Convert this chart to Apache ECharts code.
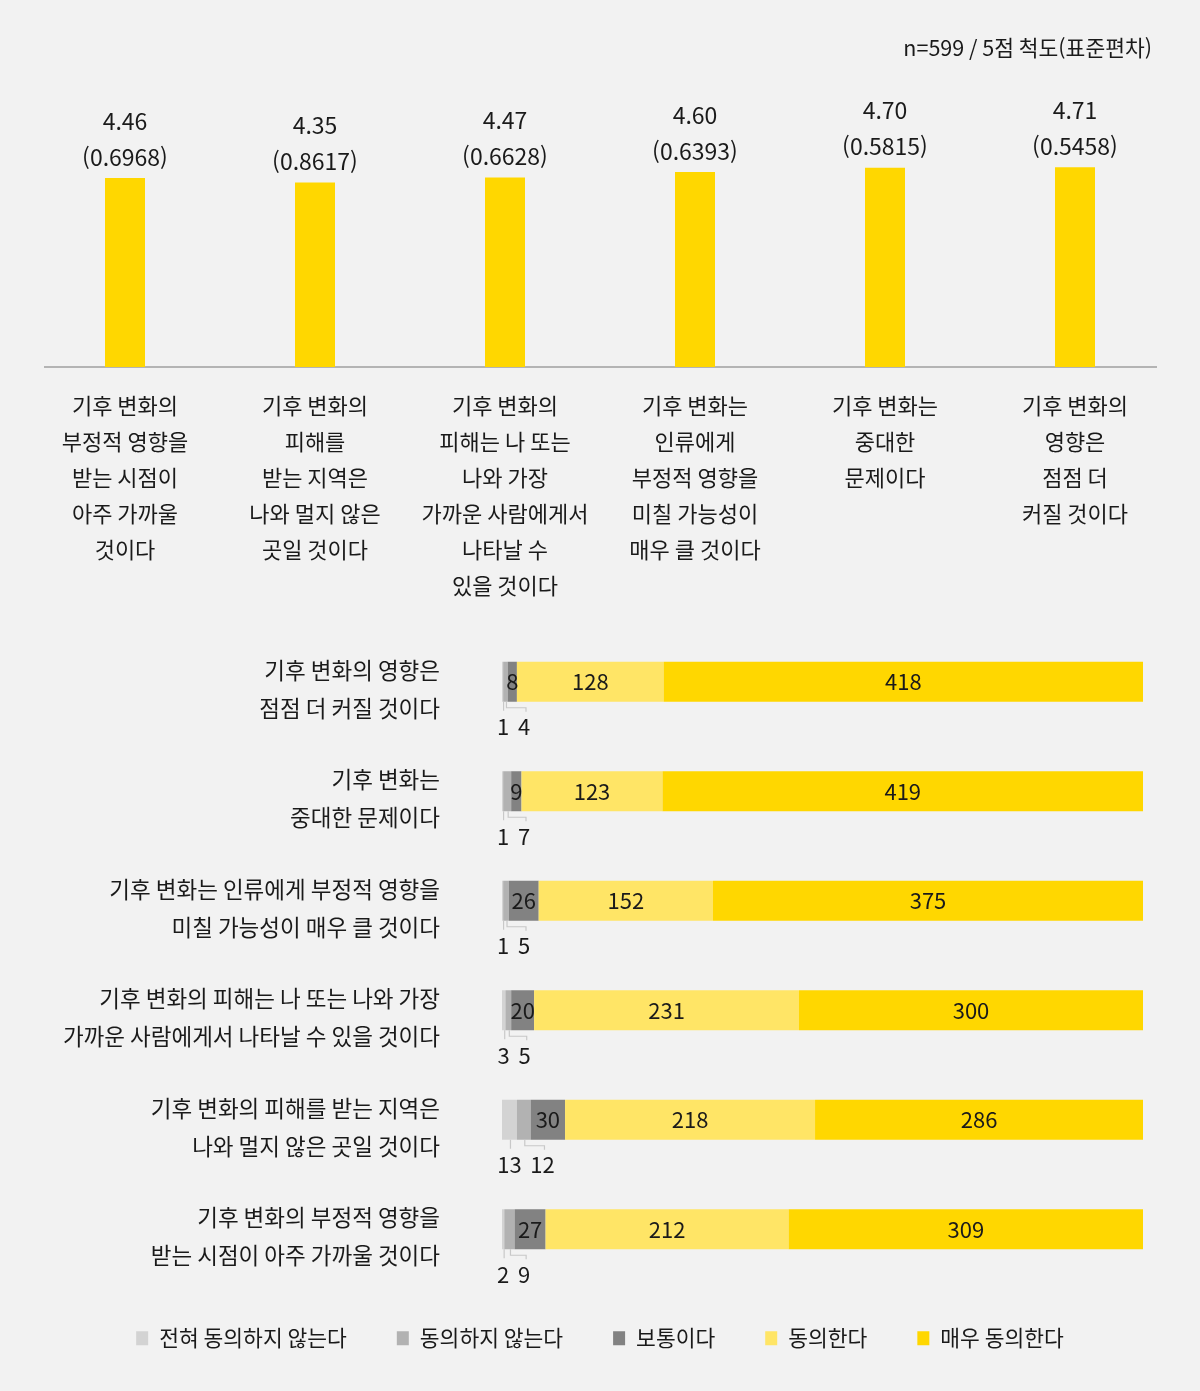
<!DOCTYPE html>
<html lang="ko">
<head>
<meta charset="UTF-8">
<title>기후 변화 인식</title>
<script src="https://cdn.jsdelivr.net/npm/echarts@6/dist/echarts.min.js"></script>
<style>
  html, body { margin: 0; padding: 0; background: #f2f2f2; }
  #chart { width: 1200px; height: 1391px; }
</style>
</head>
<body>
<div id="chart"></div>
<script>
    // 상단: 평균 점수
    let meanCategories = [
        '기후 변화의\n부정적 영향을\n받는 시점이\n아주 가까울\n것이다',
        '기후 변화의\n피해를\n받는 지역은\n나와 멀지 않은\n곳일 것이다',
        '기후 변화의\n피해는 나 또는\n나와 가장\n가까운 사람에게서\n나타날 수\n있을 것이다',
        '기후 변화는\n인류에게\n부정적 영향을\n미칠 가능성이\n매우 클 것이다',
        '기후 변화는\n중대한\n문제이다',
        '기후 변화의\n영향은\n점점 더\n커질 것이다'
    ];
    let means = [4.46, 4.35, 4.47, 4.60, 4.70, 4.71];
    let stdDevs = ['0.6968', '0.8617', '0.6628', '0.6393', '0.5815', '0.5458'];

    // 하단: 응답 분포 (위에서 아래 순서)
    let rowCategories = [
        '기후 변화의 영향은\n점점 더 커질 것이다',
        '기후 변화는\n중대한 문제이다',
        '기후 변화는 인류에게 부정적 영향을\n미칠 가능성이 매우 클 것이다',
        '기후 변화의 피해는 나 또는 나와 가장\n가까운 사람에게서 나타날 수 있을 것이다',
        '기후 변화의 피해를 받는 지역은\n나와 멀지 않은 곳일 것이다',
        '기후 변화의 부정적 영향을\n받는 시점이 아주 가까울 것이다'
    ];
    let seriesNames = ['전혀 동의하지 않는다', '동의하지 않는다', '보통이다', '동의한다', '매우 동의한다'];
    let stronglyDisagree = [1, 1, 1, 3, 13, 2];
    let disagree = [4, 7, 5, 5, 12, 9];
    let neutral = [8, 9, 26, 20, 30, 27];
    let agree = [128, 123, 152, 231, 218, 212];
    let stronglyAgree = [418, 419, 375, 300, 286, 309];

    let colors = ['#d3d3d3', '#b2b2b2', '#828282', '#ffe566', '#ffd700'];
    let font = '"Noto Sans CJK KR", "Noto Sans", sans-serif';
    let textColor = '#1a1a1a';
    let total = stronglyDisagree[0] + disagree[0] + neutral[0] + agree[0] + stronglyAgree[0];

    let chart = echarts.init(document.getElementById('chart'));

    let inLabel = {show: true, position: 'inside', color: textColor, fontSize: 22, fontFamily: font};

    // 작은 값(전혀/동의하지 않는다)은 막대 아래에 지시선과 함께 표시
    function renderSmall(params, api) {
        let row = api.value(2);
        let v1 = api.value(0), v2 = api.value(1);
        let p0 = api.coord([0, row]);
        let p1 = api.coord([v1, row]);
        let p2 = api.coord([v1 + v2, row]);
        let bottom = p0[1] + 20;
        let c1 = (p0[0] + p1[0]) / 2;
        let c2 = (p1[0] + p2[0]) / 2;
        let t1 = String(v1), t2 = String(v2);
        let cw = 12;
        let w1 = t1.length * cw, w2 = t2.length * cw;
        let left1 = Math.max(p0[0] - 5, c1 - w1 / 2);
        let lc1 = left1 + w1 / 2;
        let lc2 = left1 + w1 + 9 + w2 / 2;
        let lineStyle = {stroke: '#c8c8c8', lineWidth: 1.2, fill: null};
        let txt = (t, x) => ({type: 'text', style: {text: t, x: x, y: bottom + 25, align: 'center', verticalAlign: 'middle', fill: textColor, font: '22px ' + font}});
        return {
            type: 'group',
            children: [
                {type: 'polyline', shape: {points: [[c1 + 1, bottom], [c1 + 1, bottom + 9]]}, style: lineStyle},
                {type: 'polyline', shape: {points: [[c2 + 1, bottom], [c2 + 1, bottom + 6], [lc2 + 2, bottom + 6], [lc2 + 2, bottom + 10]]}, style: lineStyle},
                txt(t1, lc1),
                txt(t2, lc2)
            ]
        };
    }

    let option = {
        backgroundColor: '#f2f2f2',
        animation: false,
        title: {
            text: 'n=599 / 5점 척도(표준편차)',
            right: 43,
            top: 32,
            textStyle: {fontSize: 21.5, fontWeight: 'normal', color: textColor, fontFamily: font}
        },
        legend: {
            bottom: 37,
            left: 'center',
            itemWidth: 12,
            itemHeight: 14,
            itemGap: 50,
            icon: 'rect',
            data: seriesNames,
            textStyle: {fontSize: 21.5, color: textColor, fontFamily: font, padding: [0, 0, 0, 6]}
        },
        graphic: [{
            type: 'line',
            shape: {x1: 44, y1: 367, x2: 1157, y2: 367},
            style: {stroke: '#b4b4b4', lineWidth: 2}
        }],
        grid: [
            {left: 30, right: 30, top: 155, height: 212},
            {left: 502, right: 57, top: 627, height: 657}
        ],
        xAxis: [
            {
                gridIndex: 0, type: 'category', data: meanCategories,
                axisLine: {show: false}, axisTick: {show: false},
                axisLabel: {interval: 0, margin: 21, color: textColor, fontSize: 22, lineHeight: 36, fontFamily: font, verticalAlign: 'top'}
            },
            {gridIndex: 1, type: 'value', min: 0, max: total, show: false}
        ],
        yAxis: [
            {gridIndex: 0, type: 'value', min: 0, max: 5, show: false},
            {
                gridIndex: 1, type: 'category', data: rowCategories, inverse: true,
                axisLine: {show: false}, axisTick: {show: false},
                axisLabel: {
                    margin: 62, align: 'right',
                    formatter: v => '{s| }\n' + v.split('\n').map(l => '{t|' + l + '}').join('\n'),
                    rich: {
                        s: {fontSize: 1, lineHeight: 15},
                        t: {color: textColor, fontSize: 22.5, lineHeight: 38, fontFamily: font}
                    }
                }
            }
        ],
        series: [
            {
                type: 'bar', xAxisIndex: 0, yAxisIndex: 0, data: means, barWidth: 40,
                itemStyle: {color: '#ffd700'},
                label: {
                    show: true, position: 'top', distance: 3,
                    color: textColor, fontSize: 23, lineHeight: 36, fontFamily: font,
                    formatter: p => means[p.dataIndex].toFixed(2) + '\n(' + stdDevs[p.dataIndex] + ')'
                }
            },
            {name: seriesNames[0], type: 'bar', stack: 'r', xAxisIndex: 1, yAxisIndex: 1, barWidth: 40, data: stronglyDisagree, itemStyle: {color: colors[0]}},
            {name: seriesNames[1], type: 'bar', stack: 'r', xAxisIndex: 1, yAxisIndex: 1, barWidth: 40, data: disagree, itemStyle: {color: colors[1]}},
            {name: seriesNames[2], type: 'bar', stack: 'r', xAxisIndex: 1, yAxisIndex: 1, barWidth: 40, data: neutral, itemStyle: {color: colors[2]}, label: inLabel},
            {name: seriesNames[3], type: 'bar', stack: 'r', xAxisIndex: 1, yAxisIndex: 1, barWidth: 40, data: agree, itemStyle: {color: colors[3]}, label: inLabel},
            {name: seriesNames[4], type: 'bar', stack: 'r', xAxisIndex: 1, yAxisIndex: 1, barWidth: 40, data: stronglyAgree, itemStyle: {color: colors[4]}, label: inLabel},
            {
                type: 'custom', xAxisIndex: 1, yAxisIndex: 1, silent: true,
                renderItem: renderSmall,
                data: stronglyDisagree.map((v, i) => [v, disagree[i], i]),
                encode: {x: 0, y: 2},
                z: 5
            }
        ]
    };
    chart.setOption(option);
</script>
</body>
</html>
